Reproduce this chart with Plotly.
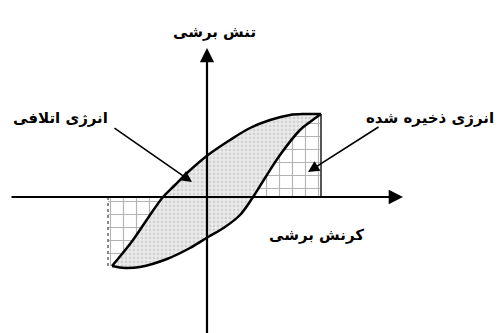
import plotly.graph_objects as go

# hysteresis loop (strain, stress)
upper_x = [-9.5, -8.5, -7.4, -5.9, -4.4, -3.2, -2.0, 0.1, 2.3, 4.3, 6.3, 8.3, 9.8, 11.4]
upper_y = [-6.9, -5.7, -4.3, -2.1, 0.0, 1.2, 2.4, 4.2, 5.7, 6.9, 7.7, 8.2, 8.3, 8.3]
lower_x = [-9.5, -8.2, -6.7, -4.0, -1.7, 0.1, 1.8, 3.3, 4.6, 5.8, 7.3, 9.3, 10.3, 11.4]
lower_y = [-6.9, -7.1, -7.0, -6.2, -5.1, -4.0, -3.0, -1.8, 0.0, 1.9, 4.2, 6.7, 7.5, 8.3]

x_min, x_max = -9.9, 11.4     # edges of the hatched (stored energy) blocks
y_min, y_max = -6.9, 8.3

labels = {
    "stress": "تنش برشی",
    "strain": "کرنش برشی",
    "lost": "انرژی اتلافی",
    "stored": "انرژی ذخیره شده",
}

FONT = "DejaVu Sans"
fig = go.Figure()

grid = dict(shape="+", size=13, solidity=0.17, fgcolor="#6a6a6a", bgcolor="white")

# stored energy, right block (right of the unloading branch, above the axis)
i0 = lower_y.index(0.0)
rx = lower_x[i0:] + [x_max, lower_x[i0]]
ry = lower_y[i0:] + [0.0, 0.0]
fig.add_trace(go.Scatter(x=rx, y=ry, fill="toself", mode="lines", line=dict(width=0, color="rgba(0,0,0,0)"),
                         fillcolor="white", fillpattern=grid))

# stored energy, left block (left of the loading branch, below the axis)
j0 = upper_y.index(0.0)
lx = upper_x[:j0 + 1] + [x_min, x_min]
ly = upper_y[:j0 + 1] + [0.0, upper_y[0]]
fig.add_trace(go.Scatter(x=lx, y=ly, fill="toself", mode="lines", line=dict(width=0, color="rgba(0,0,0,0)"),
                         fillcolor="white", fillpattern=grid))

# dissipated energy: inside the loop
fig.add_trace(go.Scatter(x=upper_x + lower_x[::-1], y=upper_y + lower_y[::-1], fill="toself", mode="lines",
                         line=dict(width=0, color="rgba(0,0,0,0)", shape="spline"),
                         fillcolor="#e8e8e8",
                         fillpattern=dict(shape=".", size=4, solidity=0.4, fgcolor="#b8b8b8", bgcolor="#ececec")))

# block edges
fig.add_trace(go.Scatter(x=[x_max, x_max], y=[0, y_max], mode="lines", line=dict(color="#444444", width=1.8)))
fig.add_trace(go.Scatter(x=[x_min, x_min], y=[0, y_min], mode="lines", line=dict(color="#666666", width=1.5, dash="dot")))

# loop branches
fig.add_trace(go.Scatter(x=upper_x, y=upper_y, mode="lines", line=dict(color="black", width=2.5, shape="spline")))
fig.add_trace(go.Scatter(x=lower_x, y=lower_y, mode="lines", line=dict(color="black", width=2.5, shape="spline")))

# axes with arrowheads
fig.add_annotation(x=19.6, y=0, ax=-19.7, ay=0, xref="x", yref="y", axref="x", ayref="y",
                   showarrow=True, arrowhead=2, arrowsize=1.3, arrowwidth=2.2, arrowcolor="black", text="")
fig.add_annotation(x=0, y=14.9, ax=0, ay=-14.0, xref="x", yref="y", axref="x", ayref="y",
                   showarrow=True, arrowhead=2, arrowsize=1.3, arrowwidth=2.2, arrowcolor="black", text="")

# pointer arrows
fig.add_annotation(x=-1.5, y=1.5, ax=-9.4, ay=7.0, xref="x", yref="y", axref="x", ayref="y",
                   showarrow=True, arrowhead=2, arrowsize=1.4, arrowwidth=1.6, arrowcolor="black", text="")
fig.add_annotation(x=10.1, y=2.5, ax=17.3, ay=7.1, xref="x", yref="y", axref="x", ayref="y",
                   showarrow=True, arrowhead=2, arrowsize=1.4, arrowwidth=1.6, arrowcolor="black", text="")

txt = dict(xref="x", yref="y", showarrow=False, font=dict(family=FONT, size=15, color="black"))
fig.add_annotation(x=0.7, y=16.5, text="<b>" + labels["stress"] + "</b>", **txt)
fig.add_annotation(x=10.9, y=-3.8, text="<b>" + labels["strain"] + "</b>", **txt)
fig.add_annotation(x=-14.7, y=7.9, text="<b>" + labels["lost"] + "</b>", **txt)
fig.add_annotation(x=22.3, y=7.9, text="<b>" + labels["stored"] + "</b>", **txt)

fig.update_xaxes(range=[-20.7, 29.4], visible=False)
fig.update_yaxes(range=[-13.6, 19.7], visible=False)
fig.update_layout(width=501, height=333, margin=dict(l=0, r=0, t=0, b=0),
                  plot_bgcolor="white", paper_bgcolor="white", showlegend=False)

# the page body has a default margin; drop it so the figure sits at 0,0
fig.write_html("out.html", config={"displayModeBar": False},
               post_script="document.body.style.margin='0';")
